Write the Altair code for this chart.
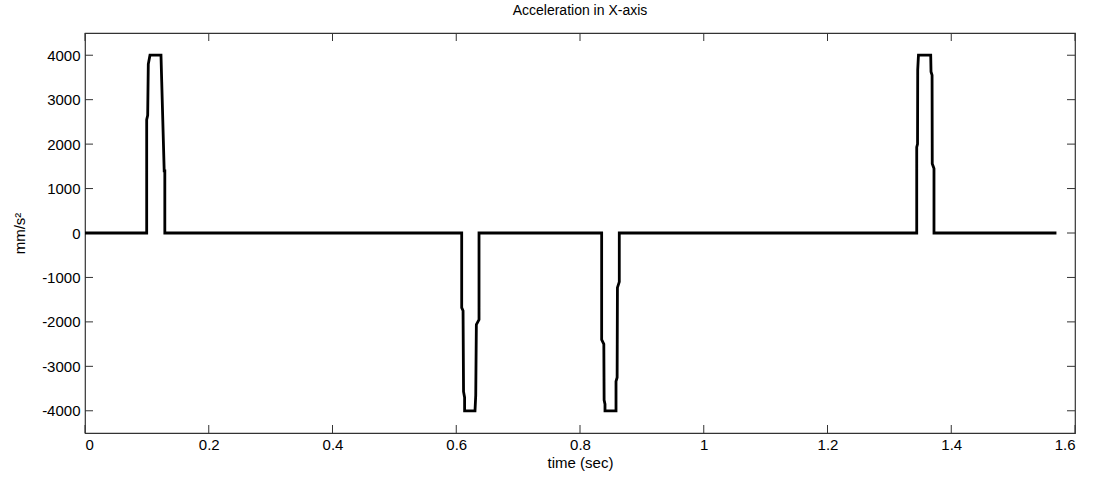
import altair as alt
import pandas as pd

# Acceleration profile (mm/s^2) sampled against time (s); vertical edges repeat the time value
time_s = [
    0.0, 0.0997,
    0.0997, 0.1013, 0.1023, 0.1050, 0.1228, 0.1240, 0.1280, 0.1290, 0.1290,
    0.6088, 0.6088, 0.6110, 0.6118, 0.6135, 0.6135, 0.6303, 0.6315, 0.6325, 0.6368, 0.6368,
    0.8350, 0.8350, 0.8385, 0.8390, 0.8404, 0.8404, 0.8582, 0.8582, 0.8600, 0.8605, 0.8635, 0.8635,
    1.3442, 1.3442, 1.3455, 1.3458, 1.3470, 1.3668, 1.3673, 1.3690, 1.3693, 1.3721, 1.3721,
    1.5700,
]
accel = [
    0, 0,
    2550, 2650, 3800, 4000, 4000, 3400, 1400, 1400, 0,
    0, -1680, -1750, -3570, -3700, -4000, -4000, -3650, -2060, -1950, 0,
    0, -2400, -2500, -3760, -3850, -4000, -4000, -3340, -3250, -1230, -1100, 0,
    0, 1930, 2000, 3670, 4000, 4000, 3630, 3550, 1560, 1450, 0,
    0,
]

x_ticks = [0, 0.2, 0.4, 0.6, 0.8, 1.0, 1.2, 1.4, 1.6]
y_ticks = [-4000, -3000, -2000, -1000, 0, 1000, 2000, 3000, 4000]

W, H = 990, 400
TICK = 8
FONT = "Liberation Sans"

signal = pd.DataFrame({"i": range(len(time_s)), "t": time_s, "a": accel})
xt = pd.DataFrame({"t": x_ticks})
yt = pd.DataFrame({"a": y_ticks})

x_scale = alt.Scale(domain=[0, 1.6], nice=False, zero=False)
y_scale = alt.Scale(domain=[-4500, 4500], nice=False, zero=False)

line = alt.Chart(signal).mark_line(color="black", strokeWidth=2.8, strokeJoin="miter").encode(
    x=alt.X("t:Q", scale=x_scale, title="time (sec)",
            axis=alt.Axis(values=x_ticks, labelExpr="'' + datum.value")),
    y=alt.Y("a:Q", scale=y_scale, title="mm/s²",
            axis=alt.Axis(values=y_ticks, labelExpr="'' + datum.value")),
    order="i:Q",
)

tick_style = dict(color="#333333", strokeWidth=1)

top_ticks = alt.Chart(xt).mark_rule(**tick_style).encode(
    x=alt.X("t:Q", scale=x_scale), y=alt.value(0), y2=alt.value(TICK))
bottom_ticks = alt.Chart(xt).mark_rule(**tick_style).encode(
    x=alt.X("t:Q", scale=x_scale), y=alt.value(H - TICK), y2=alt.value(H))
left_ticks = alt.Chart(yt).mark_rule(**tick_style).encode(
    y=alt.Y("a:Q", scale=y_scale), x=alt.value(0), x2=alt.value(TICK))
right_ticks = alt.Chart(yt).mark_rule(**tick_style).encode(
    y=alt.Y("a:Q", scale=y_scale), x=alt.value(W - TICK), x2=alt.value(W))

chart = (
    alt.layer(top_ticks, bottom_ticks, left_ticks, right_ticks, line)
    .properties(
        width=W, height=H,
        autosize=alt.AutoSizeParams(type="none"),
        padding={"left": 85, "top": 33, "right": 19, "bottom": 46},
        title=alt.TitleParams("Acceleration in X-axis", font=FONT, fontSize=14,
                              fontWeight="normal", color="black", offset=15),
        background="white",
    )
    .configure_view(stroke="#333333", strokeWidth=1.2)
    .configure_axis(
        grid=False, ticks=False, domain=False,
        labelFont=FONT, labelFontSize=15, labelColor="black",
        titleFont=FONT, titleFontSize=15, titleColor="black", titleFontWeight="normal",
    )
    .configure_axisX(labelPadding=4, titlePadding=3)
    .configure_axisY(labelPadding=5, titlePadding=14)
)

chart.save("out.html", embed_options={"renderer": "svg", "actions": False})
